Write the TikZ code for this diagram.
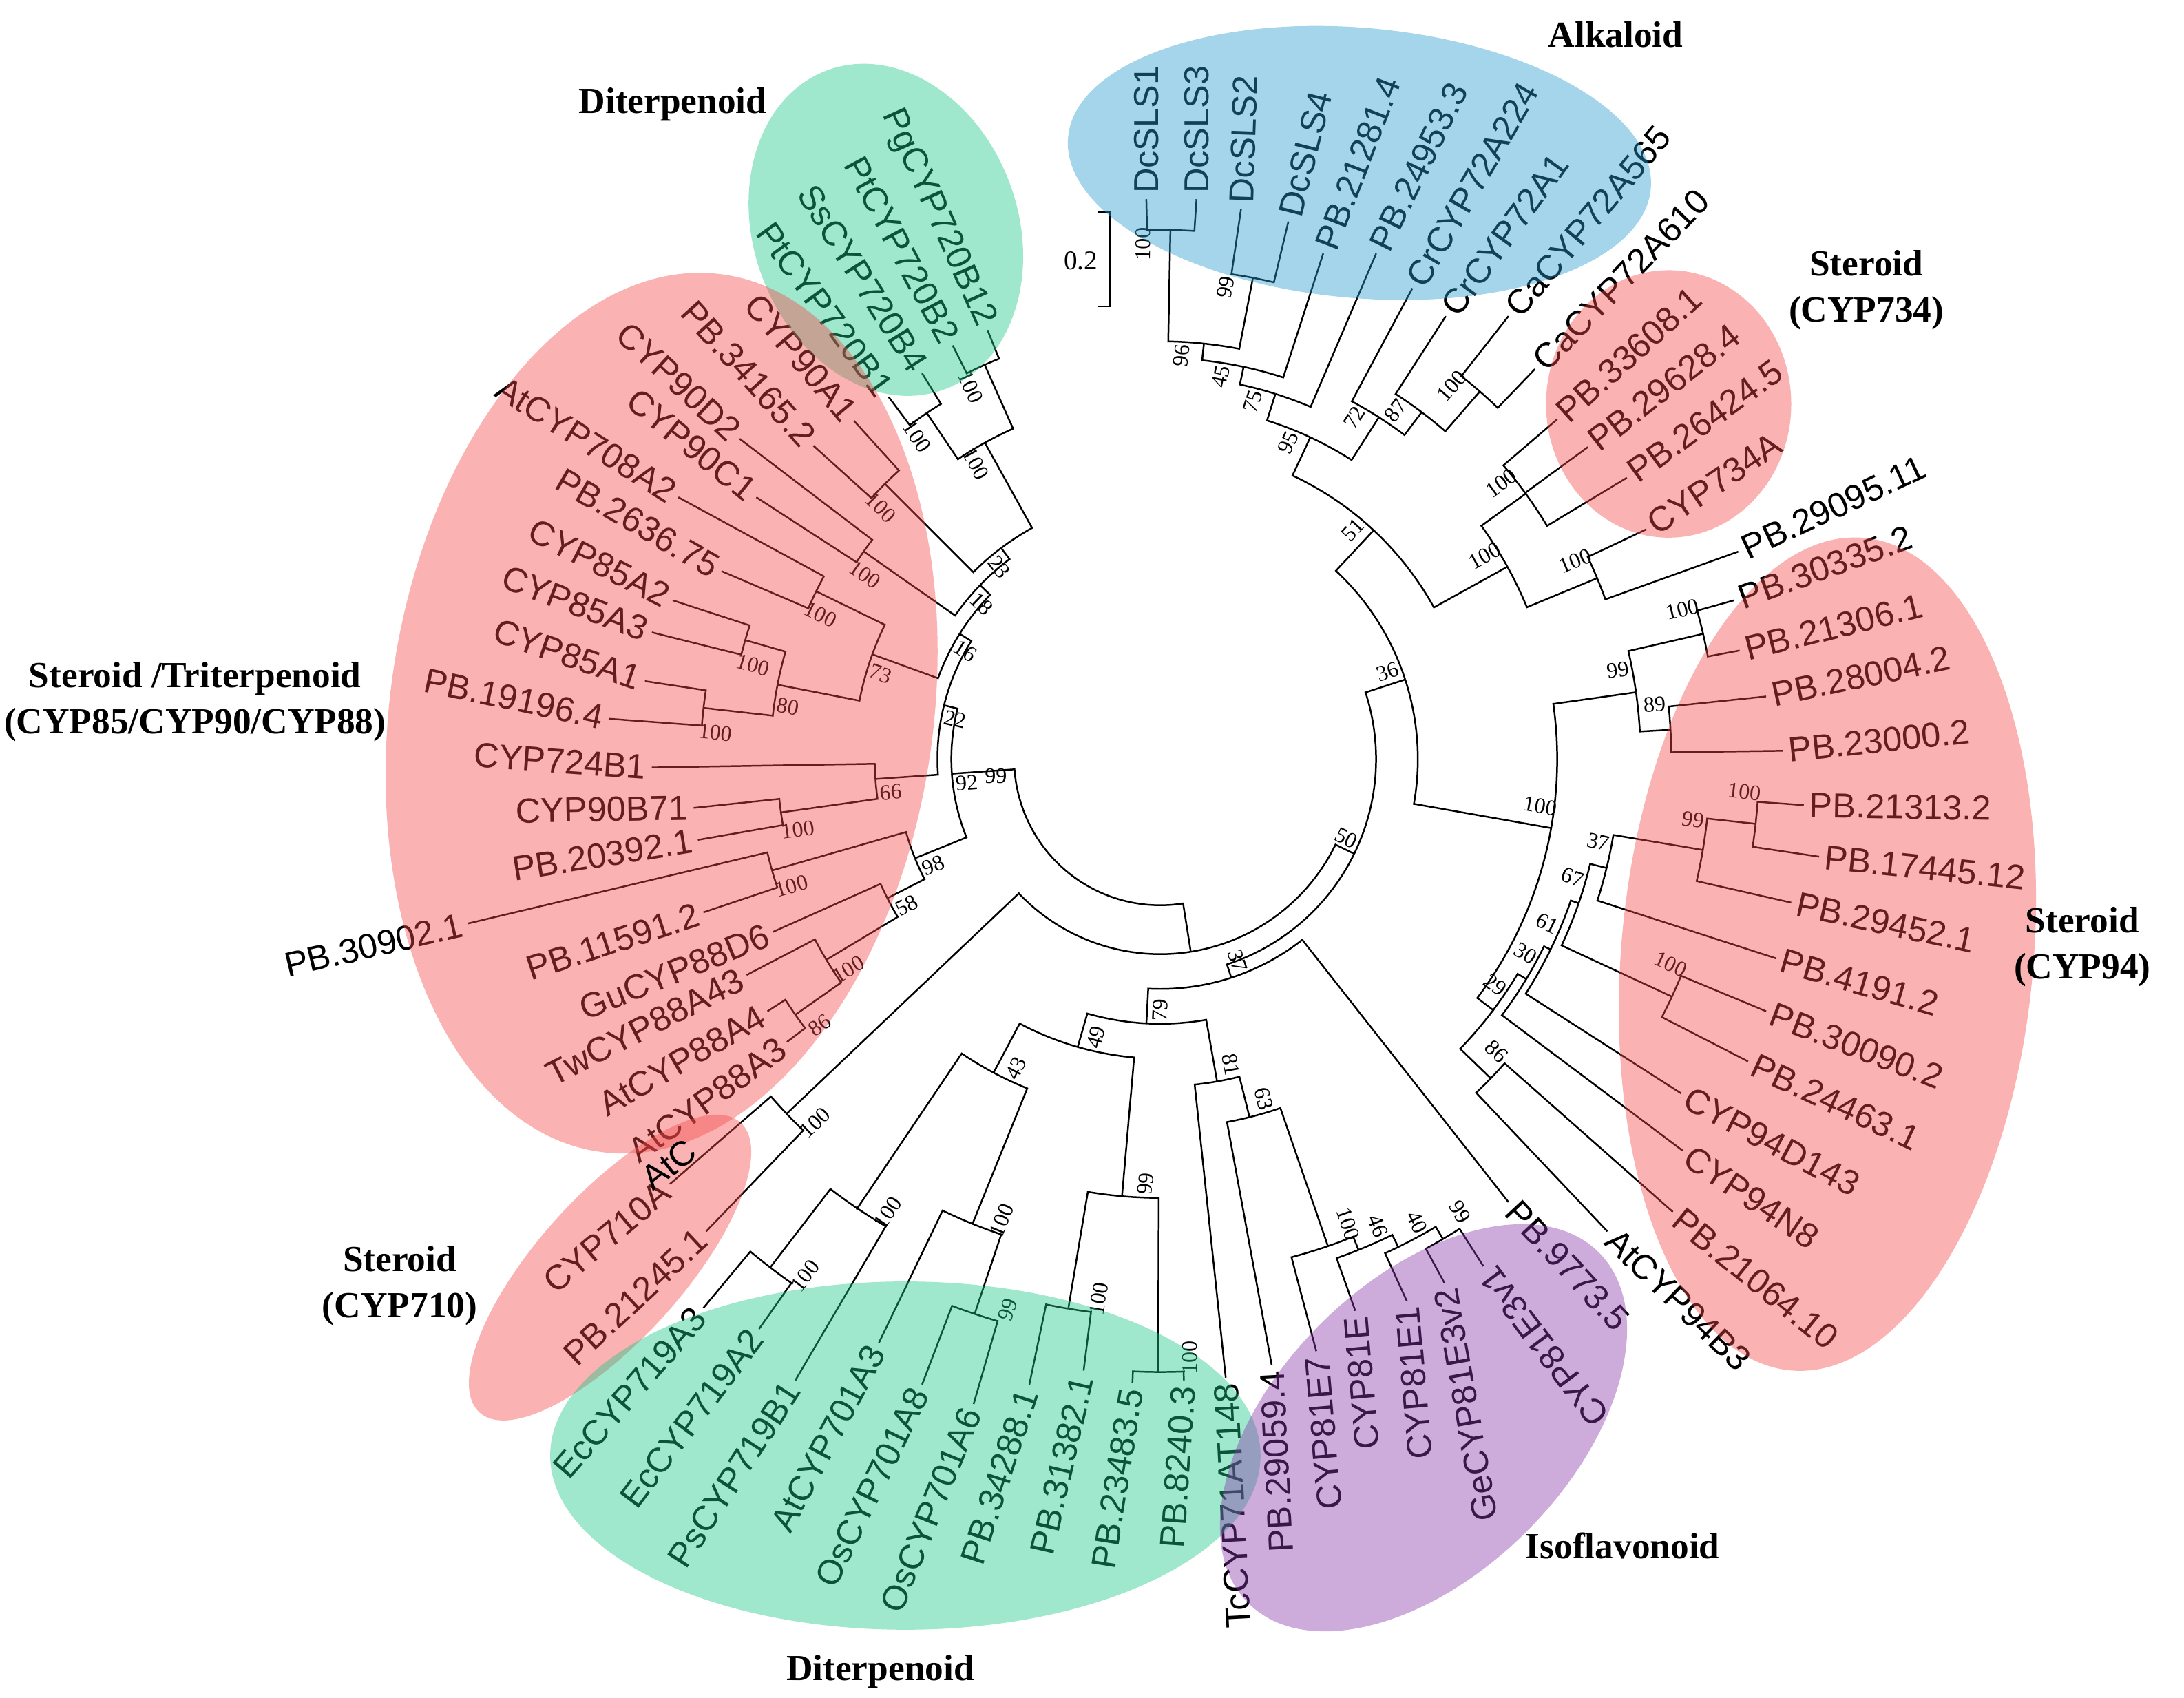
\documentclass[tikz,border=0pt]{standalone}
\usepackage{fontspec}
\setmainfont{Liberation Serif}
\newfontfamily\arialf{Liberation Sans}
\usetikzlibrary{calc}
\definecolor{cpink}{RGB}{243,72,72}
\definecolor{cgreen}{RGB}{29,200,136}
\definecolor{cblue}{RGB}{41,155,207}
\definecolor{cpurp}{RGB}{136,57,172}
\tikzset{
 leaf/.style={font=\arialf\fontsize{7.1}{8}\selectfont, inner sep=1pt},
 bs/.style={font=\fontsize{4.5}{5}\selectfont, inner sep=0.5pt},
 br/.style={line width=0.35pt},
 grp/.style={font=\bfseries\fontsize{7.5}{9.4}\selectfont, align=center},
 blob/.style={fill opacity=0.42, draw=none},
}
\newcommand\lfR[5]{\coordinate (#1) at (#2,-#3);\node[leaf,rotate=#4,anchor=west] (t#1) at (#1) {#5};}
\newcommand\lfL[5]{\coordinate (#1) at (#2,-#3);\node[leaf,rotate=#4,anchor=east] (t#1) at (#1) {#5};}
\newcommand\inn[4]{\coordinate (#1) at ($(O)+(#2:#3)$);\pgfmathsetmacro\rr{mod(#2+270,180)-90}\node[bs,rotate=\rr] (b#1) at ($(O)+({#2+3}:{#3-10})$) {#4};}
\newcommand\br[2]{\draw[br] let \p1=($(#2)-(O)$), \p2=($(#1)-(O)$), \n1={atan2(scalar(\y1),scalar(\x1))}, \n2={atan2(scalar(\y2),scalar(\x2))}, \n3={veclen(\x2,\y2)}, \n4={mod(\n2-\n1+540,360)-180} in (#2) -- ($(O)+(\n1:\n3)$) arc[start angle=\n1, delta angle=\n4, radius=\n3];}
\begin{document}
\begin{tikzpicture}[x=0.01cm,y=0.01cm]
\useasboundingbox (0,-1219) rectangle (1568,0);
\coordinate (O) at (833,-545);
% leaves right
\lfR{dcs1}{823}{143}{90}{DcSLS1}
\lfR{dcs3}{859}{143}{90}{DcSLS3}
\lfR{dcs2}{891}{150}{88}{DcSLS2}
\lfR{dcs4}{925}{159}{76}{DcSLS4}
\lfR{p21281}{950}{182}{69}{PB.21281.4}
\lfR{p24953}{988}{182}{64}{PB.24953.3}
\lfR{cr224}{1014}{207}{60}{CrCYP72A224}
\lfR{cr1}{1038}{227}{54}{CrCYP72A1}
\lfR{ca565}{1083}{227}{50}{CaCYP72A565}
\lfR{ca610}{1102}{265}{46}{CaCYP72A610}
\lfR{p33608}{1118}{301}{42}{PB.33608.1}
\lfR{p29628}{1140}{321}{38}{PB.29628.4}
\lfR{p26424}{1168}{343}{36}{PB.26424.5}
\lfR{c734}{1182}{380}{34}{CYP734A}
\lfR{p29095}{1248}{396}{25}{PB.29095.11}
\lfR{p30335}{1245}{431}{20}{PB.30335.2}
\lfR{p21306}{1249}{467}{14}{PB.21306.1}
\lfR{p28004}{1268}{500}{12}{PB.28004.2}
\lfR{p23000}{1280}{539}{6}{PB.23000.2}
\lfR{p21313}{1295}{578}{-1}{PB.21313.2}
\lfR{p17445}{1306}{615}{-6}{PB.17445.12}
\lfR{p29452}{1286}{648}{-12}{PB.29452.1}
\lfR{p4191}{1275}{688}{-16}{PB.4191.2}
\lfR{p30090}{1268}{726}{-21}{PB.30090.2}
\lfR{p24463}{1255}{762}{-25}{PB.24463.1}
\lfR{c94d}{1207}{785}{-28}{CYP94D143}
\lfR{c94n}{1208}{826}{-34}{CYP94N8}
\lfR{p21064}{1201}{870}{-39}{PB.21064.10}
\lfR{at94}{1154}{884}{-44}{AtCYP94B3}
\lfR{p9773}{1083}{863}{-47}{PB.9773.5}
% leaves bottom / left
\lfL{e3v1}{1065}{909}{127}{CYP81E3v1}
\lfL{ge}{1037}{921}{100}{GeCYP81E3v2}
\lfL{e1}{1010}{934}{95}{CYP81E1}
\lfL{e81}{973}{941}{95}{CYP81E}
\lfL{e7}{945}{970}{95}{CYP81E7}
\lfL{p29059}{913}{980}{93}{PB.29059.4}
\lfL{tc}{880}{989}{93}{TcCYP71AT148}
\lfL{p8240}{850}{991}{86}{PB.8240.3}
\lfL{p23483}{813}{993}{81}{PB.23483.5}
\lfL{p31382}{778}{984}{77}{PB.31382.1}
\lfL{p34288}{739}{994}{72}{PB.34288.1}
\lfL{os6}{699}{1008}{68}{OsCYP701A6}
\lfL{os8}{662}{994}{64}{OsCYP701A8}
\lfL{at701}{631}{964}{62}{AtCYP701A3}
\lfL{ps}{571}{991}{57}{PsCYP719B1}
\lfL{ec2}{545}{954}{53}{EcCYP719A2}
\lfL{ec3}{505}{939}{49}{EcCYP719A3}
\lfL{p21245}{507}{884}{43}{PB.21245.1}
\lfL{c710}{481}{850}{40}{CYP710A}
\lfL{at3}{565}{748}{36}{AtCYP88A3}
\lfL{at4}{551}{726}{30}{AtCYP88A4}
\lfL{tw}{536}{700}{27}{TwCYP88A43}
\lfL{gu}{555}{669}{22}{GuCYP88D6}
\lfL{p11591}{505}{655}{18}{PB.11591.2}
\lfL{p30902}{336}{663}{13}{PB.30902.1}
\lfL{p20392}{501}{603}{9}{PB.20392.1}
\lfL{c90b71}{498}{580}{1}{CYP90B71}
\lfL{c724}{468}{551}{-4}{CYP724B1}
\lfL{p19196}{437}{516}{-12}{PB.19196.4}
\lfL{c85a1}{463}{489}{-19}{CYP85A1}
\lfL{c85a3}{468}{454}{-21}{CYP85A3}
\lfL{c85a2}{483}{431}{-27}{CYP85A2}
\lfL{p2636}{518}{410}{-30}{PB.2636.75}
\lfL{at708}{487}{357}{-32}{AtCYP708A2}
\lfL{c90c1}{543}{357}{-39}{CYP90C1}
\lfL{c90d2}{531}{315}{-43}{CYP90D2}
\lfL{p34165}{584}{320}{-48}{PB.34165.2}
\lfL{c90a1}{613}{302}{-50}{CYP90A1}
\lfL{ptb1}{638}{285}{-54}{PtCYP720B1}
\lfL{ss}{662}{268}{-58}{SsCYP720B4}
\lfL{ptb2}{684}{248}{-62}{PtCYP720B2}
\lfL{pg}{709}{237}{-66}{PgCYP720B12}
% internal nodes
\inn{a1}{88.9}{380}{100}\inn{a2}{79.1}{352}{99}\inn{a3}{84}{300}{96}
\inn{a4}{78}{288}{45}\inn{a5}{72.5}{275}{75}\inn{a6}{49}{350}{100}
\inn{a7}{53}{312}{87}\inn{a8}{57.4}{292}{72}\inn{a9}{65}{255}{95}
\inn{b1}{36}{325}{100}\inn{b2}{22.5}{340}{100}\inn{b3}{29}{285}{100}
\inn{t1}{47}{225}{51}
\inn{c1}{13}{400}{100}\inn{c2}{3.3}{367}{89}\inn{c3}{8}{345}{99}
\inn{c4}{-6.2}{430}{100}\inn{c5}{-9.5}{395}{99}\inn{c6}{-13.7}{330}{37}
\inn{c7}{-24.9}{405}{100}\inn{c8}{-19}{318}{67}\inn{c9}{-26}{312}{61}
\inn{c10}{-31}{307}{30}\inn{c11}{-44}{330}{86}\inn{c12}{-37}{300}{29}
\inn{c13}{-10}{285}{100}\inn{R36}{18}{185}{36}
\inn{I99}{-59.5}{400}{99}\inn{I40}{-64}{390}{40}\inn{I46}{-68}{380}{46}
\inn{I100}{-71}{370}{100}\inn{I63}{-76}{265}{63}\inn{I81}{-80}{235}{81}
\inn{E100a}{-127.5}{460}{100}\inn{E100b}{-124}{390}{100}
\inn{O99}{-108.5}{420}{99}\inn{O100}{-112}{360}{100}\inn{E43}{-118}{255}{43}
\inn{P100}{-99.5}{400}{100}\inn{P100b}{-90.2}{440}{100}\inn{P99}{-95}{315}{99}
\inn{D49}{-106}{215}{49}\inn{R79}{-93}{190}{79}\inn{R37}{-72}{165}{37}
\inn{R50}{-26}{155}{50}\inn{m100}{-136.5}{370}{100}\inn{RR}{-81}{140}{}
\inn{g1}{114}{310}{100}\inn{g2}{124}{300}{100}\inn{g3}{119}{260}{100}
\inn{h1}{135}{280}{100}\inn{h2}{145}{260}{100}\inn{h3}{154}{275}{100}
\inn{h4}{164}{310}{100}\inn{h5}{173.6}{330}{100}\inn{h6}{169}{280}{80}
\inn{h7}{160}{220}{73}\inn{h8}{188}{275}{100}\inn{h9}{184}{205}{66}
\inn{j1}{196}{290}{100}\inn{j2a}{215}{320}{86}\inn{j2}{211}{280}{100}
\inn{j3}{207}{220}{58}\inn{j4}{202}{190}{98}
\inn{k23}{127}{190}{23}\inn{k18}{136}{180}{18}\inn{k16}{148}{170}{16}
\inn{k22}{166}{160}{22}\inn{k92}{184}{150}{92}\inn{ROOT}{231}{105}{}
\node[bs] (b99) at (715,-557) {99};
% branches
\br{a1}{dcs1}\br{a1}{dcs3}\br{a2}{dcs2}\br{a2}{dcs4}\br{a3}{a1}\br{a3}{a2}
\br{a4}{a3}\br{a4}{p21281}\br{a5}{a4}\br{a5}{p24953}
\br{a6}{ca565}\br{a6}{ca610}\br{a7}{cr1}\br{a7}{a6}\br{a8}{cr224}\br{a8}{a7}
\br{a9}{a5}\br{a9}{a8}
\br{b1}{p33608}\br{b1}{p29628}\br{b1}{p26424}\br{b2}{c734}\br{b2}{p29095}
\br{b3}{b1}\br{b3}{b2}\br{t1}{a9}\br{t1}{b3}
\br{c1}{p30335}\br{c1}{p21306}\br{c2}{p28004}\br{c2}{p23000}\br{c3}{c1}\br{c3}{c2}
\br{c4}{p21313}\br{c4}{p17445}\br{c5}{c4}\br{c5}{p29452}\br{c6}{c5}\br{c6}{p4191}
\br{c7}{p30090}\br{c7}{p24463}\br{c8}{c6}\br{c8}{c7}\br{c9}{c8}\br{c9}{c94d}
\br{c10}{c9}\br{c10}{c94n}\br{c11}{p21064}\br{c11}{at94}\br{c12}{c10}\br{c12}{c11}
\br{c13}{c3}\br{c13}{c12}\br{R36}{t1}\br{R36}{c13}
\br{I99}{ge}\br{I99}{e3v1}\br{I40}{e1}\br{I40}{I99}\br{I46}{e81}\br{I46}{I40}
\br{I100}{e7}\br{I100}{I46}\br{I63}{p29059}\br{I63}{I100}\br{I81}{tc}\br{I81}{I63}
\br{E100a}{ec3}\br{E100a}{ec2}\br{E100b}{E100a}\br{E100b}{ps}
\br{O99}{os8}\br{O99}{os6}\br{O100}{at701}\br{O100}{O99}\br{E43}{E100b}\br{E43}{O100}
\br{P100}{p34288}\br{P100}{p31382}\br{P100b}{p23483}\br{P100b}{p8240}
\br{P99}{P100}\br{P99}{P100b}\br{D49}{E43}\br{D49}{P99}
\br{R79}{D49}\br{R79}{I81}\br{R37}{p9773}\br{R37}{R79}\br{R50}{R36}\br{R50}{R37}
\br{m100}{c710}\br{m100}{p21245}\br{RR}{R50}\br{RR}{m100}
\br{g1}{ptb2}\br{g1}{pg}\br{g2}{ptb1}\br{g2}{ss}\br{g3}{g1}\br{g3}{g2}
\br{h1}{c90a1}\br{h1}{p34165}\br{h2}{c90d2}\br{h2}{c90c1}\br{h3}{at708}\br{h3}{p2636}
\br{h4}{c85a2}\br{h4}{c85a3}\br{h5}{p19196}\br{h5}{c85a1}\br{h6}{h4}\br{h6}{h5}
\br{h7}{h3}\br{h7}{h6}\br{h8}{c90b71}\br{h8}{p20392}\br{h9}{c724}\br{h9}{h8}
\br{j1}{p30902}\br{j1}{p11591}\br{j2a}{at4}\br{j2a}{at3}\br{j2}{tw}\br{j2}{j2a}
\br{j3}{gu}\br{j3}{j2}\br{j4}{j1}\br{j4}{j3}
\br{k23}{g3}\br{k23}{h1}\br{k18}{k23}\br{k18}{h2}\br{k16}{k18}\br{k16}{h7}
\br{k22}{k16}\br{k22}{h9}\br{k92}{k22}\br{k92}{j4}\br{ROOT}{k92}\br{ROOT}{RR}
% scale bar
\coordinate (s1) at (788,-152);\coordinate (s2) at (797,-152);
\coordinate (s3) at (797,-220);\coordinate (s4) at (788,-220);
\draw[br] (s1) -- (s2) -- (s3) -- (s4);
\node[font=\fontsize{5.5}{6}\selectfont] (sc) at (776,-187) {0.2};
% colour blobs
\fill[blob,cblue,rotate around={-5:(976,-117)}] (976,-117) ellipse [x radius=210, y radius=97];
\fill[blob,cgreen,rotate around={20:(636,-165)}] (636,-165) ellipse [x radius=95, y radius=122];
\fill[blob,cpink,rotate around={-8:(475,-512)}] (475,-512) ellipse [x radius=195, y radius=318];
\fill[blob,cpink] (1198,-290) ellipse [x radius=88, y radius=96];
\fill[blob,cpink,rotate around={-5:(1312,-685)}] (1312,-685) ellipse [x radius=148, y radius=300];
\fill[blob,cpink,rotate around={48:(438,-910)}] (438,-910) ellipse [x radius=140, y radius=52];
\fill[blob,cgreen] (650,-1045) ellipse [x radius=255, y radius=125];
\fill[blob,cpurp,rotate around={45:(1022,-1025)}] (1022,-1025) ellipse [x radius=178, y radius=105];
\node[leaf,rotate=38] (atc) at (480,-836) {AtC};
% group labels
\node[grp] (gd1) at (483,-75) {Diterpenoid};
\node[grp] (gal) at (1160,-25) {Alkaloid};
\node[grp] (g734) at (1340,-208) {Steroid\\(CYP734)};
\node[grp] (gst) at (140,-504) {Steroid /Triterpenoid\\(CYP85/CYP90/CYP88)};
\node[grp] (g94) at (1495,-680) {Steroid\\(CYP94)};
\node[grp] (g710) at (287,-923) {Steroid\\(CYP710)};
\node[grp] (gd2) at (632,-1200) {Diterpenoid};
\node[grp] (giso) at (1165,-1110) {Isoflavonoid};
\end{tikzpicture}
\end{document}
